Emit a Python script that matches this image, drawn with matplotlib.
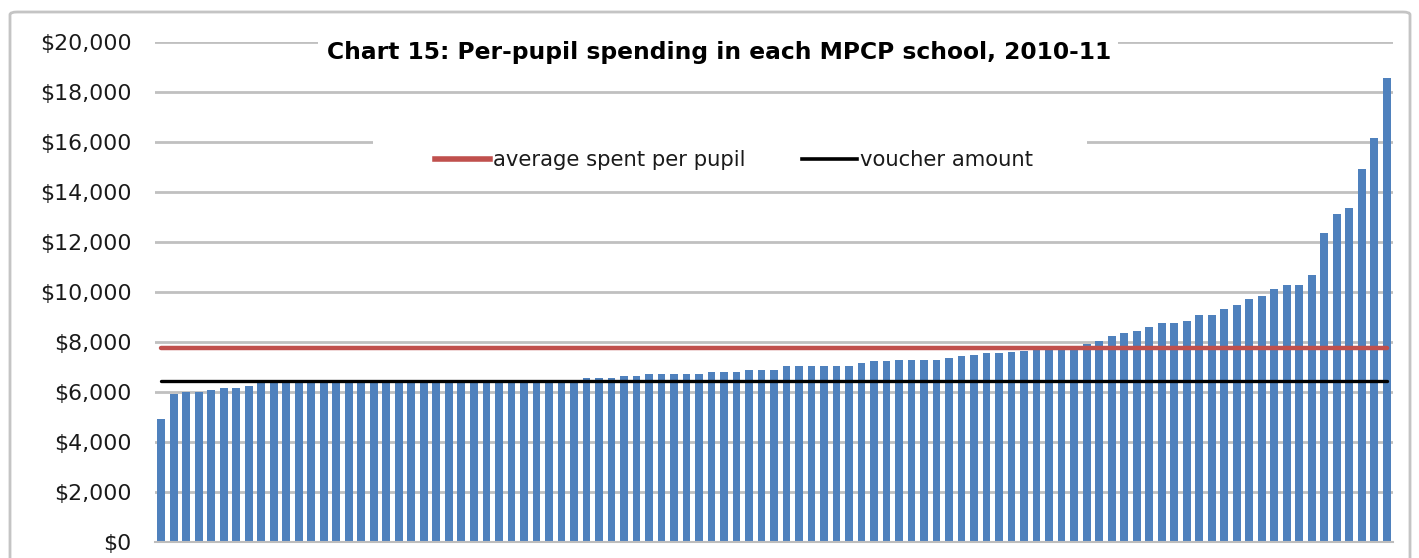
import matplotlib
matplotlib.use("Agg")
import matplotlib.pyplot as plt
from matplotlib.patches import Rectangle, FancyBboxPatch
from matplotlib.ticker import FuncFormatter
import numpy as np

# ---- data (per-pupil spending, dollars, sorted ascending) ----
spending = [
    4920, 5920, 6010, 6010, 6090, 6170, 6170, 6240, 6340, 6340,
    6350, 6350, 6350, 6360, 6360, 6370, 6370, 6380, 6380, 6380,
    6390, 6390, 6400, 6400, 6400, 6410, 6410, 6420, 6420, 6430,
    6440, 6450, 6460, 6480, 6540, 6570, 6570, 6630, 6640, 6730,
    6730, 6730, 6730, 6730, 6810, 6810, 6810, 6880, 6880, 6890,
    7040, 7040, 7040, 7040, 7040, 7040, 7140, 7220, 7220, 7290,
    7290, 7290, 7290, 7360, 7420, 7470, 7560, 7560, 7600, 7640,
    7800, 7850, 7850, 7850, 7930, 8030, 8250, 8360, 8440, 8600,
    8760, 8760, 8840, 9070, 9070, 9310, 9470, 9710, 9850, 10110,
    10270, 10270, 10670, 12350, 13140, 13380, 14920, 16180, 18560,
]
average_spent = 7740
voucher_amount = 6442
y_ticks = [0, 2000, 4000, 6000, 8000, 10000, 12000, 14000, 16000, 18000, 20000]
title = "Chart 15: Per-pupil spending in each MPCP school, 2010-11"
legend_labels = ["average spent per pupil", "voucher amount"]

W, H = 1419, 558
fig = plt.figure(figsize=(W / 100, H / 100), dpi=100)
fig.patch.set_facecolor("white")

def fx(px):
    return px / W

def fy(py):
    return 1 - py / H

# outer chart border
fig.patches.append(FancyBboxPatch((fx(10), fy(600)), fx(1400), fy(12) - fy(600),
                                  boxstyle="round,pad=0,rounding_size=0.005",
                                  transform=fig.transFigure, facecolor="none",
                                  edgecolor="#c4c4c4", linewidth=2.0, zorder=0))

ax = fig.add_axes([fx(155), fy(541.7), fx(1393) - fx(155), fy(42.3) - fy(541.7)])
ax.set_facecolor("none")

n = len(spending)
x = np.arange(n)
ax.bar(x, spending, width=0.62, color="#4F81BD", zorder=2)
ax.plot(x, [average_spent] * n, color="#C0504D", lw=3.2, solid_capstyle="round", zorder=3)
ax.plot(x, [voucher_amount] * n, color="#000000", lw=2.4, solid_capstyle="round", zorder=3)

ax.set_xlim(-0.5, n - 0.5)
ax.set_ylim(0, 20000)
ax.set_yticks(y_ticks)
ax.yaxis.set_major_formatter(FuncFormatter(lambda v, p: "${:,.0f}".format(v)))
ax.set_xticks([])
ax.grid(axis="y", color="#c0c0c0", lw=2.0, zorder=0)
ax.set_axisbelow(True)
for s in ["top", "right", "left"]:
    ax.spines[s].set_visible(False)
ax.spines["bottom"].set_color("#bdbdbd")
ax.spines["bottom"].set_linewidth(1.5)
ax.tick_params(axis="y", length=0, pad=17, labelsize=15.8, labelcolor="#1a1a1a")
for lab in ax.get_yticklabels():
    lab.set_fontfamily("DejaVu Sans")

# title with white box covering the top gridline
fig.patches.append(Rectangle((fx(318), fy(75)), fx(1118) - fx(318), fy(30) - fy(75),
                             transform=fig.transFigure, facecolor="white",
                             edgecolor="none", zorder=5))
fig.text(fx(719), fy(52), title, ha="center", va="center", fontsize=16.8,
         fontweight="bold", family="DejaVu Sans", color="#000000", zorder=6)

# legend area with white box
fig.patches.append(Rectangle((fx(373), fy(190)), fx(1087) - fx(373), fy(135) - fy(190),
                             transform=fig.transFigure, facecolor="white",
                             edgecolor="none", zorder=5))
handles = [plt.Line2D([], [], color="#C0504D", lw=4),
           plt.Line2D([], [], color="#000000", lw=2.6)]
leg = fig.legend(handles, legend_labels, loc="center", ncol=2,
                 bbox_to_anchor=(fx(734), fy(160)), frameon=False,
                 fontsize=15.2, handlelength=2.6, handletextpad=0.12,
                 columnspacing=2.7)
leg.set_zorder(7)
for t in leg.get_texts():
    t.set_color("#1a1a1a")

fig.savefig("out.png", dpi=100, facecolor="white")
